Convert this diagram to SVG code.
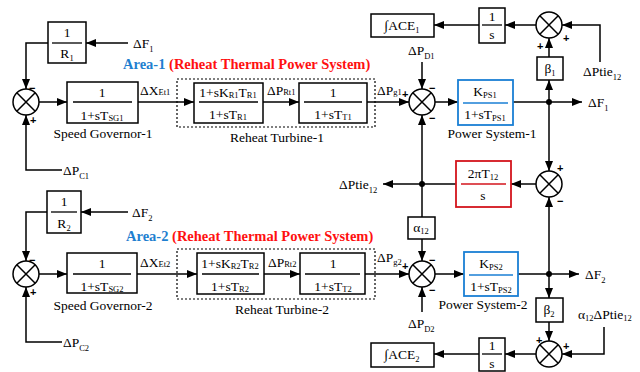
<svg xmlns="http://www.w3.org/2000/svg" width="640" height="372" viewBox="0 0 640 372">
<defs>
<marker id="ah" markerWidth="10" markerHeight="8" refX="10" refY="4" orient="auto" markerUnits="userSpaceOnUse"><path d="M0,0 L10,4 L0,8 z" fill="#000"/></marker>
<g id="sumsym"><circle cx="0" cy="0" r="13" fill="#fff" stroke="#000" stroke-width="1.5"/><path d="M-9.2,-9.2 L9.2,9.2 M9.2,-9.2 L-9.2,9.2" stroke="#000" stroke-width="1.5"/></g>
</defs>
<style>
.l{font-family:"Liberation Serif","Times New Roman",serif;font-size:13.5px;fill:#000}
.sub{font-size:8.5px}
.sg{font-family:"Liberation Sans",Arial,sans-serif;font-size:11px;font-weight:bold;fill:#000}
.b{fill:#fff;stroke:#000;stroke-width:1.5}
.fl{stroke:#000;stroke-width:1.3}
.c{fill:none;stroke:#000;stroke-width:1.5}
.a{marker-end:url(#ah)}
.dot{fill:none;stroke:#000;stroke-width:1.2;stroke-dasharray:2,2}
.t{font-family:"Liberation Serif","Times New Roman",serif;font-size:14.5px;font-weight:bold}
</style>
<rect width="640" height="372" fill="#fff"/>

<!-- titles -->
<text class="t" x="123" y="69"><tspan fill="#1f7fd0">Area-1</tspan><tspan fill="#ff1010"> (Reheat Thermal Power System)</tspan></text>
<text class="t" x="126" y="241"><tspan fill="#1f7fd0">Area-2</tspan><tspan fill="#ff1010"> (Reheat Thermal Power System)</tspan></text>

<!-- dotted turbine frames -->
<rect class="dot" x="177" y="79" width="198" height="48"/>
<rect class="dot" x="177" y="249" width="198" height="50"/>

<!-- connectors -->
<g id="connectors">
<path class="c a" d="M128,43 L86,43"/>
<path class="c a" d="M48,43 L26,43 L26,89"/>
<path class="c a" d="M62,170 L26,170 L26,115"/>
<path class="c a" d="M39,102 L67,102"/>
<path class="c a" d="M138,102 L194,102"/>
<path class="c a" d="M263,102 L299,102"/>
<path class="c a" d="M367,102 L409,102"/>
<path class="c a" d="M422,62 L422,89"/>
<path class="c a" d="M435,102 L458,102"/>
<path class="c a" d="M513,102 L582,102"/>
<path class="c a" d="M549,102 L549,80"/>
<path class="c a" d="M549,57 L549,38"/>
<path class="c a" d="M600,62 L600,25 L562,25"/>
<path class="c a" d="M536,25 L505,25"/>
<path class="c a" d="M479,25 L434,25"/>
<path class="c a" d="M549,102 L549,171"/>
<path class="c a" d="M549,274 L549,197"/>
<path class="c a" d="M536,184 L511,184"/>
<path class="c a" d="M456,184 L383,184"/>
<path class="c a" d="M422,184 L422,115"/>
<path class="c" d="M422,184 L422,217"/>
<path class="c a" d="M422,239 L422,261"/>
<path class="c a" d="M422,312 L422,287"/>

<path class="c a" d="M128,212 L81,212"/>
<path class="c a" d="M47,212 L26,212 L26,261"/>
<path class="c a" d="M62,342 L26,342 L26,287"/>
<path class="c a" d="M39,274 L67,274"/>
<path class="c a" d="M137,274 L197,274"/>
<path class="c a" d="M264,274 L300,274"/>
<path class="c a" d="M365,274 L409,274"/>
<path class="c a" d="M435,274 L464,274"/>
<path class="c a" d="M518,274 L579,274"/>
<path class="c a" d="M549,274 L549,298"/>
<path class="c a" d="M549,322 L549,341"/>
<path class="c a" d="M604,327 L604,354 L562,354"/>
<path class="c a" d="M536,354 L505,354"/>
<path class="c a" d="M479,354 L434,354"/>
<circle cx="549" cy="102" r="3" fill="#000"/>
<circle cx="422" cy="184" r="3" fill="#000"/>
<circle cx="549" cy="274" r="3" fill="#000"/>
</g>

<!-- Area 1 -->
<g id="R1">
<rect class="b" x="48" y="22" width="38" height="41"/>
<line class="fl" x1="52" y1="43" x2="82" y2="43"/>
<text class="l" x="67" y="37" text-anchor="middle">1</text>
<text class="l" x="67" y="58" text-anchor="middle">R<tspan class="sub" dy="3">1</tspan></text>
</g>
<g id="sum1"><use href="#sumsym" x="26" y="102"/>
<text class="sg" x="29" y="92">−</text><text class="sg" x="30" y="124">+</text></g>
<g id="gov1">
<rect class="b" x="67" y="82" width="71" height="41"/>
<line class="fl" x1="73" y1="102" x2="132" y2="102"/>
<text class="l" x="102" y="97" text-anchor="middle">1</text>
<text class="l" x="102" y="120" text-anchor="middle">1+sT<tspan class="sub" dy="1">SG1</tspan></text>
<text class="l" x="103" y="138" text-anchor="middle">Speed Governor-1</text>
</g>
<g id="turb1a">
<rect class="b" x="194" y="83" width="69" height="40"/>
<line class="fl" x1="199" y1="102" x2="258" y2="102"/>
<text class="l" x="228" y="97" text-anchor="middle">1+sK<tspan class="sub" dy="1">R1</tspan><tspan dy="-1">T</tspan><tspan class="sub" dy="1">R1</tspan></text>
<text class="l" x="228" y="119" text-anchor="middle">1+sT<tspan class="sub" dy="1">R1</tspan></text>
</g>
<g id="turb1b">
<rect class="b" x="299" y="83" width="68" height="40"/>
<line class="fl" x1="304" y1="102" x2="362" y2="102"/>
<text class="l" x="333" y="97" text-anchor="middle">1</text>
<text class="l" x="333" y="119" text-anchor="middle">1+sT<tspan class="sub" dy="1">T1</tspan></text>
</g>
<text class="l" x="277" y="142" text-anchor="middle">Reheat Turbine-1</text>
<text class="l" x="133" y="48">ΔF<tspan class="sub" dy="4">1</tspan></text>
<text class="l" x="63" y="175">ΔP<tspan class="sub" dy="4">C1</tspan></text>
<text class="l" x="140" y="95">ΔX<tspan class="sub" dy="0">Et1</tspan></text>
<text class="l" x="267" y="95">ΔP<tspan class="sub" dy="0">Rt1</tspan></text>
<text class="l" x="377" y="95">ΔP<tspan class="sub" dy="0">g1</tspan></text>

<g id="sum2"><use href="#sumsym" x="422" y="102"/>
<text class="sg" x="402" y="98">+</text><text class="sg" x="429" y="92">−</text><text class="sg" x="429" y="122">−</text></g>
<text class="l" x="408" y="55">ΔP<tspan class="sub" dy="4">D1</tspan></text>
<g id="kps1">
<rect x="458" y="80" width="55" height="45" fill="#fff" stroke="#1a7fd4" stroke-width="1.8"/>
<line x1="463" y1="103" x2="508" y2="103" stroke="#1a7fd4" stroke-width="1.5"/>
<text class="l" x="485" y="96" text-anchor="middle">K<tspan class="sub" dy="2">PS1</tspan></text>
<text class="l" x="485" y="119" text-anchor="middle">1+sT<tspan class="sub" dy="2">PS1</tspan></text>
<text class="l" x="492" y="138" text-anchor="middle">Power System-1</text>
</g>
<text class="l" x="588" y="107">ΔF<tspan class="sub" dy="4">1</tspan></text>
<g id="beta1">
<rect class="b" x="537" y="57" width="26" height="23"/>
<text class="l" x="550" y="73" text-anchor="middle">β<tspan class="sub" dy="3">1</tspan></text>
</g>
<g id="sumtop"><use href="#sumsym" x="549" y="25"/>
<text class="sg" x="537" y="50">+</text><text class="sg" x="563" y="42">+</text></g>
<text class="l" x="583" y="76">ΔPtie<tspan class="sub" dy="4">12</tspan></text>
<g id="int1">
<rect class="b" x="479" y="8" width="26" height="35"/>
<line class="fl" x1="482" y1="25" x2="502" y2="25"/>
<text class="l" x="492" y="21" text-anchor="middle">1</text>
<text class="l" x="492" y="39" text-anchor="middle">s</text>
</g>
<g id="ace1">
<rect class="b" x="371" y="14" width="63" height="23"/>
<text class="l" x="402" y="30" text-anchor="middle">∫ACE<tspan class="sub" dy="3">1</tspan></text>
</g>

<!-- tie line -->
<g id="sum3"><use href="#sumsym" x="549" y="184"/>
<text class="sg" x="557" y="172">+</text><text class="sg" x="557" y="205">−</text></g>
<g id="tie">
<rect x="456" y="161" width="55" height="46" fill="#fff" stroke="#d3141c" stroke-width="1.8"/>
<line x1="461" y1="184" x2="506" y2="184" stroke="#d3141c" stroke-width="1.5"/>
<text class="l" x="483" y="178" text-anchor="middle">2πT<tspan class="sub" dy="2">12</tspan></text>
<text class="l" x="483" y="200" text-anchor="middle">s</text>
</g>
<text class="l" x="339" y="189">ΔPtie<tspan class="sub" dy="4">12</tspan></text>
<g id="alpha">
<rect class="b" x="408" y="217" width="27" height="22"/>
<text class="l" x="421" y="232" text-anchor="middle">α<tspan class="sub" dy="2">12</tspan></text>
</g>

<!-- Area 2 -->
<g id="R2">
<rect class="b" x="47" y="191" width="34" height="42"/>
<line class="fl" x1="51" y1="212" x2="77" y2="212"/>
<text class="l" x="64" y="206" text-anchor="middle">1</text>
<text class="l" x="64" y="228" text-anchor="middle">R<tspan class="sub" dy="3">2</tspan></text>
</g>
<g id="sum4"><use href="#sumsym" x="26" y="274"/>
<text class="sg" x="29" y="264">−</text><text class="sg" x="30" y="296">+</text></g>
<g id="gov2">
<rect class="b" x="67" y="253" width="70" height="40"/>
<line class="fl" x1="73" y1="274" x2="131" y2="274"/>
<text class="l" x="102" y="268" text-anchor="middle">1</text>
<text class="l" x="102" y="291" text-anchor="middle">1+sT<tspan class="sub" dy="1">SG2</tspan></text>
<text class="l" x="103" y="310" text-anchor="middle">Speed Governor-2</text>
</g>
<g id="turb2a">
<rect class="b" x="197" y="253" width="67" height="41"/>
<line class="fl" x1="202" y1="274" x2="259" y2="274"/>
<text class="l" x="230" y="268" text-anchor="middle">1+sK<tspan class="sub" dy="1">R2</tspan><tspan dy="-1">T</tspan><tspan class="sub" dy="1">R2</tspan></text>
<text class="l" x="230" y="291" text-anchor="middle">1+sT<tspan class="sub" dy="1">R2</tspan></text>
</g>
<g id="turb2b">
<rect class="b" x="300" y="253" width="65" height="41"/>
<line class="fl" x1="305" y1="274" x2="360" y2="274"/>
<text class="l" x="333" y="268" text-anchor="middle">1</text>
<text class="l" x="333" y="291" text-anchor="middle">1+sT<tspan class="sub" dy="1">T2</tspan></text>
</g>
<text class="l" x="282" y="314" text-anchor="middle">Reheat Turbine-2</text>
<text class="l" x="132" y="217">ΔF<tspan class="sub" dy="4">2</tspan></text>
<text class="l" x="63" y="347">ΔP<tspan class="sub" dy="4">C2</tspan></text>
<text class="l" x="140" y="267">ΔX<tspan class="sub" dy="0">Et2</tspan></text>
<text class="l" x="268" y="267">ΔP<tspan class="sub" dy="0">Rt2</tspan></text>
<text class="l" x="377" y="262">ΔP<tspan class="sub" dy="3">g2</tspan></text>

<g id="sum5"><use href="#sumsym" x="422" y="274"/>
<text class="sg" x="402" y="270">+</text><text class="sg" x="429" y="264">−</text><text class="sg" x="429" y="294">−</text></g>
<text class="l" x="408" y="328">ΔP<tspan class="sub" dy="4">D2</tspan></text>
<g id="kps2">
<rect x="464" y="252" width="54" height="44" fill="#fff" stroke="#1a7fd4" stroke-width="1.8"/>
<line x1="469" y1="275" x2="513" y2="275" stroke="#1a7fd4" stroke-width="1.5"/>
<text class="l" x="491" y="268" text-anchor="middle">K<tspan class="sub" dy="2">PS2</tspan></text>
<text class="l" x="491" y="291" text-anchor="middle">1+sT<tspan class="sub" dy="2">PS2</tspan></text>
<text class="l" x="483" y="309" text-anchor="middle">Power System-2</text>
</g>
<text class="l" x="585" y="279">ΔF<tspan class="sub" dy="4">2</tspan></text>
<g id="beta2">
<rect class="b" x="536" y="298" width="27" height="24"/>
<text class="l" x="549" y="314" text-anchor="middle">β<tspan class="sub" dy="3">2</tspan></text>
</g>
<g id="sumbot"><use href="#sumsym" x="549" y="354"/>
<text class="sg" x="536" y="344">+</text><text class="sg" x="563" y="350">+</text></g>
<text class="l" x="578" y="319">α<tspan class="sub" dy="2">12</tspan><tspan dy="-2">ΔPtie</tspan><tspan class="sub" dy="2">12</tspan></text>
<g id="int2">
<rect class="b" x="479" y="338" width="26" height="33"/>
<line class="fl" x1="482" y1="354" x2="502" y2="354"/>
<text class="l" x="492" y="350" text-anchor="middle">1</text>
<text class="l" x="492" y="368" text-anchor="middle">s</text>
</g>
<g id="ace2">
<rect class="b" x="371" y="343" width="63" height="24"/>
<text class="l" x="402" y="359" text-anchor="middle">∫ACE<tspan class="sub" dy="3">2</tspan></text>
</g>
</svg>
